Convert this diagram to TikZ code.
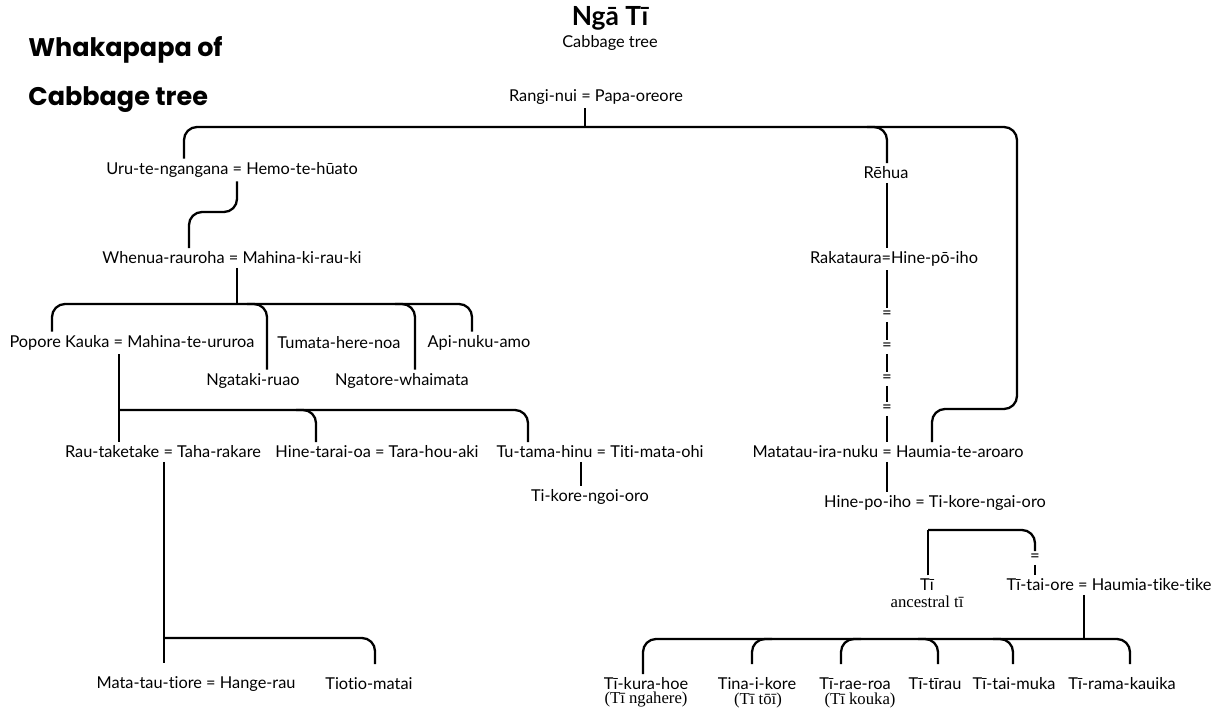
\documentclass[tikz,border=0pt]{standalone}
\usepackage{fontspec}
\usepackage{tikz}
\usetikzlibrary{calc}
\setmainfont{Lato}[Ligatures=NoCommon]
\newfontfamily\titlefont{Poppins}
\newfontfamily\notefont{Liberation Serif}

\tikzset{
  person/.style={font=\fontsize{9.3}{11}\selectfont, inner sep=2pt},
  note/.style={font=\notefont\fontsize{9.5}{11}\selectfont, inner sep=1pt},
  heading/.style={anchor=west, font=\titlefont\bfseries\fontsize{14.5}{16}\selectfont, inner sep=0pt},
  eqmark/.style={font=\fontsize{9.5}{10}\selectfont, inner sep=1.5pt},
  link/.style={line width=1.3pt},
  hook/.style={link, rounded corners=0.26cm},
  reach/.style={shorten >=0.2cm},
}

\begin{document}
\begin{tikzpicture}[x=0.02cm,y=-0.02cm]
\useasboundingbox (0,0) rectangle (1220,713);

% headings
\node[heading] (headA) at (28,50) {Whakapapa of};
\node[heading] (headB) at (28,100) {Cabbage tree};
\node[font=\bfseries\fontsize{15}{17}\selectfont, inner sep=0pt] (nga) at (610,18) {Ngā Tī};
\node[person] (sub) at (610,43) {Cabbage tree};

% people
\node[person] (rangi) at (596,97) {Rangi-nui = Papa-oreore};
\node[person] (uru) at (232,170) {Uru-te-ngangana = Hemo-te-hūato};
\node[person] (rehua) at (886,173) {Rēhua};
\node[person] (whenua) at (232,258) {Whenua-rauroha = Mahina-ki-rau-ki};
\node[person] (rakataura) at (894,259) {Rakataura=Hine-pō-iho};
\node[person] (popore) at (132,343) {Popore Kauka = Mahina-te-ururoa};
\node[person] (tumata) at (339,343) {Tumata-here-noa};
\node[person] (api) at (479,343) {Api-nuku-amo};
\node[person] (ngataki) at (253,381) {Ngataki-ruao};
\node[person] (ngatore) at (402,381) {Ngatore-whaimata};
\node[person] (rau) at (163,452) {Rau-taketake = Taha-rakare};
\node[person] (hinetarai) at (377,452) {Hine-tarai-oa = Tara-hou-aki};
\node[person] (tutama) at (600,452) {Tu-tama-hinu = Titi-mata-ohi};
\node[person] (matatau) at (888,452) {Matatau-ira-nuku = Haumia-te-aroaro};
\node[person] (tikore) at (590,497) {Ti-kore-ngoi-oro};
\node[person] (hinepo) at (935,503) {Hine-po-iho = Ti-kore-ngai-oro};
\node[person] (ti) at (927,585) {Tī};
\node[note] (anc) at (927,602) {ancestral tī};
\node[person] (taiore) at (1109,585) {Tī-tai-ore = Haumia-tike-tike};
\node[person] (mata) at (196,684) {Mata-tau-tiore = Hange-rau};
\node[person] (tiotio) at (369,684) {Tiotio-matai};

\node[person] (kura) at (646,684) {Tī-kura-hoe};
\node[person] (tina) at (757,684) {Tina-i-kore};
\node[person] (rae) at (855,684) {Tī-rae-roa};
\node[person] (tirau) at (935,684) {Tī-tīrau};
\node[person] (muka) at (1014,684) {Tī-tai-muka};
\node[person] (rama) at (1122,684) {Tī-rama-kauika};
\node[note] (kuraN) at (646,700) {(Tī ngahere)};
\node[note] (tinaN) at (758,700) {(Tī tōī)};
\node[note] (raeN) at (860,700) {(Tī kouka)};

% "=" marks down the Rehua line
\foreach \y [count=\i] in {315,347,379,409}
  \node[eqmark] (eq\i) at (887,\y) {=};
\node[eqmark] (eq5) at (1035,558) {=};

% junctions
\coordinate (top0) at (585,127);
\coordinate (topL) at (184,127);
\coordinate (topRe) at (887,127);
\coordinate (topR) at (1017,127);
\coordinate (rBend) at (1017,409);
\coordinate (hmX) at (932,409);
\coordinate (uruEq) at (237,212);
\coordinate (uruS) at (189,212);
\coordinate (wb0) at (237,304);
\coordinate (wbL) at (52,304);
\coordinate (wb2) at (267,304);
\coordinate (wb3) at (415,304);
\coordinate (wbR) at (472,304);
\coordinate (pb0) at (119,410);
\coordinate (pb2) at (316,410);
\coordinate (pbR) at (528,410);
\coordinate (rb0) at (164,638);
\coordinate (rbR) at (375,638);
\coordinate (tuX) at (581,470);
\coordinate (tiBar0) at (928,530);
\coordinate (tiBar) at (1035,530);
\coordinate (bb0) at (1084,639);
\coordinate (bb1) at (643,639);
\coordinate (bb2) at (752,639);
\coordinate (bb3) at (841,639);
\coordinate (bb4) at (938,639);
\coordinate (bb5) at (1013,639);
\coordinate (bb6) at (1130,639);

% Rangi-nui and Papa
\draw[link] (top0 |- rangi.south) -- (top0);
\draw[hook] (topL |- uru.north) -- (topL) -- (topR) -- (rBend) -- (hmX) -- (hmX |- matatau.north);
\draw[hook] ($(topRe)+(-20,0)$) -- (topRe) -- (topRe |- rehua.north);

% Rehua line
\draw[link] (topRe |- rehua.south) -- (topRe |- rakataura.north);
\draw[link] (topRe |- rakataura.south) -- (eq1.north);
\foreach \a/\b in {1/2,2/3,3/4}
  \draw[link] (eq\a.south) -- (eq\b.north);
\draw[link] (eq4.south) -- (topRe |- matatau.north);
\draw[link] (topRe |- matatau.south) -- (topRe |- hinepo.north);

% Uru to Whenua
\draw[hook] (uruEq |- uru.south) -- (uruEq) -- (uruS) -- (uruS |- whenua.north);

% Whenua children
\draw[link] (wb0 |- whenua.south) -- (wb0);
\draw[hook] (wbL |- popore.north) -- (wbL) -- (wbR) -- (wbR |- api.north);
\draw[hook] ($(wb2)+(-20,0)$) -- (wb2) -- (wb2 |- ngataki.north);
\draw[hook] ($(wb3)+(-20,0)$) -- (wb3) -- (wb3 |- ngatore.north);

% Popore children
\draw[link] (pb0 |- popore.south) -- (pb0 |- rau.north);
\draw[hook] (pb0) -- (pbR) -- (pbR |- tutama.north);
\draw[hook] ($(pb2)+(-20,0)$) -- (pb2) -- (pb2 |- hinetarai.north);
\draw[link] (tuX |- tutama.south) -- (tuX |- tikore.north);

% Rau children
\draw[link, reach] (rb0 |- rau.south) -- (rb0 |- mata.north);
\draw[hook, reach] (rb0) -- (rbR) -- (rbR |- tiotio.north);

% Ti and Ti-tai-ore
\draw[link] (tiBar0 |- ti.north) -- (tiBar0);
\draw[hook] (tiBar0) -- (tiBar) -- (eq5.north);
\draw[link] (eq5.south) -- (eq5.south |- taiore.north);

% children of Ti-tai-ore
\draw[link] (bb0 |- taiore.south) -- (bb0);
\draw[hook, reach] (bb1 |- kura.north) -- (bb1) -- (bb6) -- (bb6 |- rama.north);
\draw[hook, reach] ($(bb2)+(20,0)$) -- (bb2) -- (bb2 |- tina.north);
\draw[hook, reach] ($(bb3)+(20,0)$) -- (bb3) -- (bb3 |- rae.north);
\draw[hook, reach] ($(bb4)+(-20,0)$) -- (bb4) -- (bb4 |- tirau.north);
\draw[hook, reach] ($(bb5)+(-20,0)$) -- (bb5) -- (bb5 |- muka.north);

\end{tikzpicture}
\end{document}
